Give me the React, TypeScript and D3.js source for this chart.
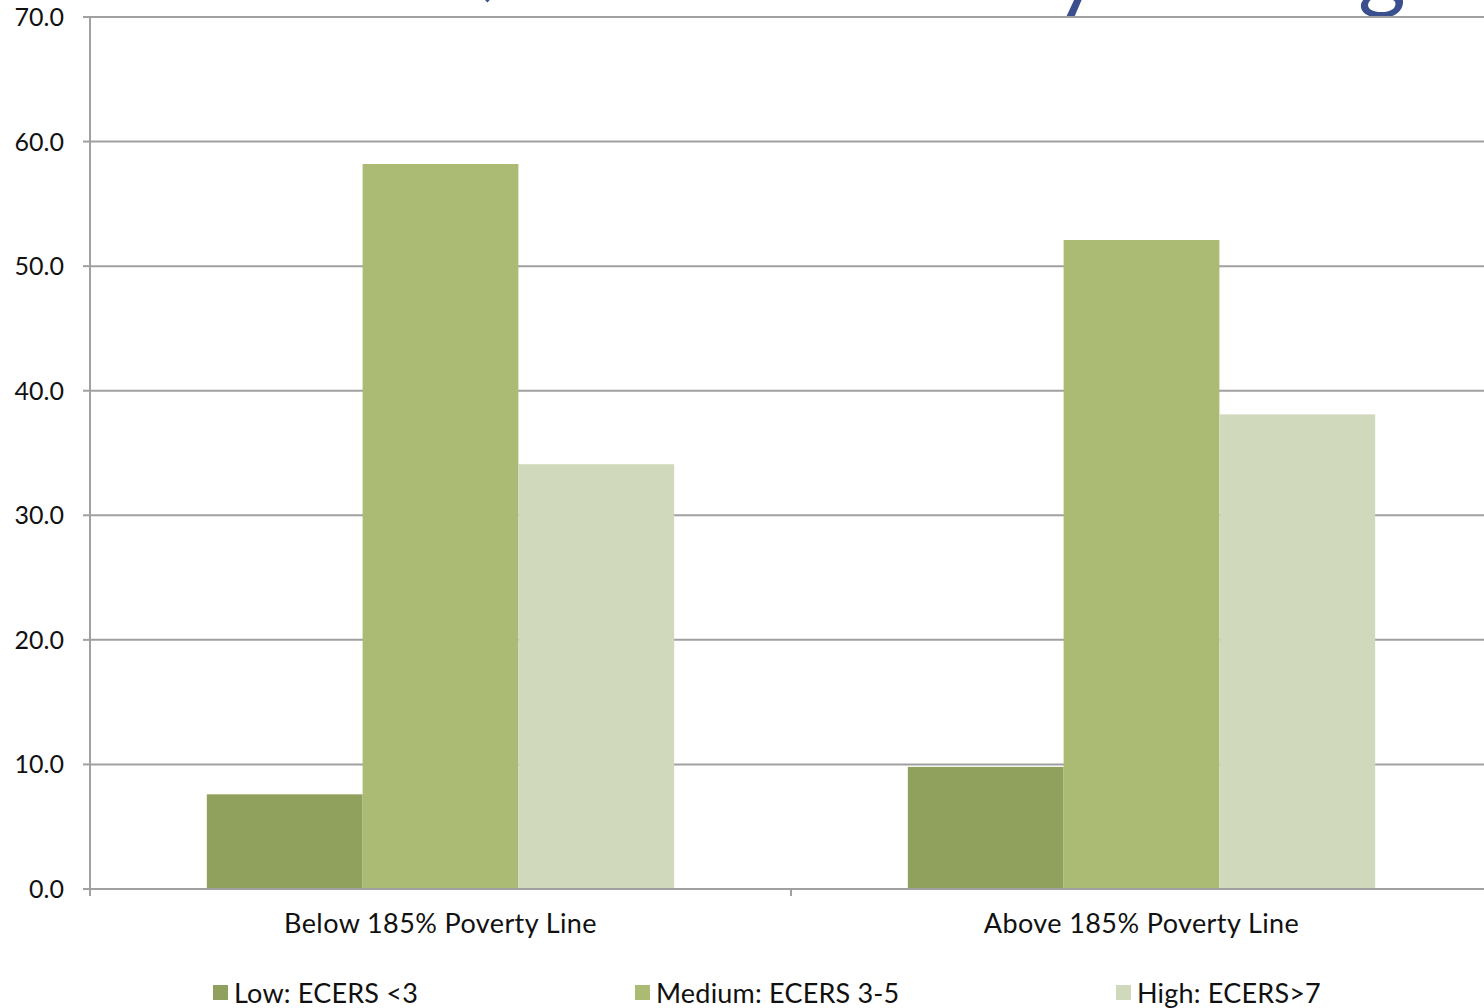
import React from "react";
import * as d3 from "d3";

const categories = ["Below 185% Poverty Line", "Above 185% Poverty Line"];
const seriesNames = ["Low: ECERS <3", "Medium: ECERS 3-5", "High: ECERS>7"];
const lowValues = [7.6, 9.8];
const mediumValues = [58.2, 52.1];
const highValues = [34.1, 38.1];
const yTicks = [0, 10, 20, 30, 40, 50, 60, 70];
const colors = ["#90A05D", "#ABBB73", "#D0D9BB"];

const W = 1484;
const H = 1008;
const left = 90;
const top = 17;
const bottom = 889;
const right = 1492;
const FONT = "Lato, 'Noto Sans', sans-serif";

export default function App() {
  const series = [lowValues, mediumValues, highValues];
  const y = d3.scaleLinear().domain([0, 70]).range([bottom, top]);
  const x0 = d3.scaleBand<string>().domain(categories).range([left, right]).padding(0);
  const x1 = d3
    .scaleBand<string>()
    .domain(seriesNames)
    .range([0, x0.bandwidth()])
    .paddingInner(0)
    .paddingOuter(0.75);

  const legendX = [213, 635, 1116];

  return (
    <div style={{ position: "fixed", left: 0, top: 0, width: W, height: H, background: "#fff" }}>
      <svg width={W} height={H} style={{ display: "block" }}>
        <rect width={W} height={H} fill="#fff" />
        {/* partially visible title (cut off above) */}
        <g fill="#3A4F8E" fontFamily={FONT} fontSize={92}>
          <text x={480} y={-10}>,</text>
          <text x={1054} y={2}>y</text>
          <text x={1358} y={1}>g</text>
        </g>
        {/* gridlines */}
        {yTicks.map((t) => (
          <line key={t} x1={left} x2={W} y1={y(t)} y2={y(t)} stroke="#A0A0A0" strokeWidth={2} />
        ))}
        {/* y axis */}
        <line x1={left} x2={left} y1={top} y2={bottom + 7} stroke="#A0A0A0" strokeWidth={2} />
        {yTicks.map((t) => (
          <line key={"yt" + t} x1={left - 7} x2={left} y1={y(t)} y2={y(t)} stroke="#A0A0A0" strokeWidth={2} />
        ))}
        {yTicks.map((t) => (
          <text
            key={"yl" + t}
            x={64}
            y={y(t) + 9}
            textAnchor="end"
            fontFamily={FONT}
            fontSize={25}
            fill="#111"
          >
            {t.toFixed(1)}
          </text>
        ))}
        {/* bars */}
        {categories.map((c, ci) => (
          <g key={c} transform={`translate(${x0(c)},0)`}>
            {seriesNames.map((s, si) => {
              const v = series[si][ci];
              return (
                <rect
                  key={s}
                  x={x1(s)}
                  y={y(v)}
                  width={x1.bandwidth()}
                  height={y(0) - y(v)}
                  fill={colors[si]}
                />
              );
            })}
          </g>
        ))}
        {/* x axis */}
        <line x1={left - 7} x2={W} y1={bottom} y2={bottom} stroke="#A0A0A0" strokeWidth={2} />
        {categories.map((c) => (
          <line
            key={"xt" + c}
            x1={x0(c)}
            x2={x0(c)}
            y1={bottom}
            y2={bottom + 7}
            stroke="#A0A0A0"
            strokeWidth={2}
          />
        ))}
        {categories.map((c) => (
          <text
            key={"xl" + c}
            x={(x0(c) as number) + x0.bandwidth() / 2}
            y={933}
            textAnchor="middle"
            fontFamily={FONT}
            fontSize={27}
            letterSpacing={0.4}
            fill="#111"
          >
            {c}
          </text>
        ))}
        {/* legend */}
        {seriesNames.map((s, si) => (
          <g key={"lg" + s}>
            <rect x={legendX[si]} y={985} width={15} height={15} fill={colors[si]} />
            <text
              x={legendX[si] + 21}
              y={1003}
              fontFamily={FONT}
              fontSize={27}
              letterSpacing={0.2}
              fill="#111"
            >
              {s}
            </text>
          </g>
        ))}
      </svg>
    </div>
  );
}
